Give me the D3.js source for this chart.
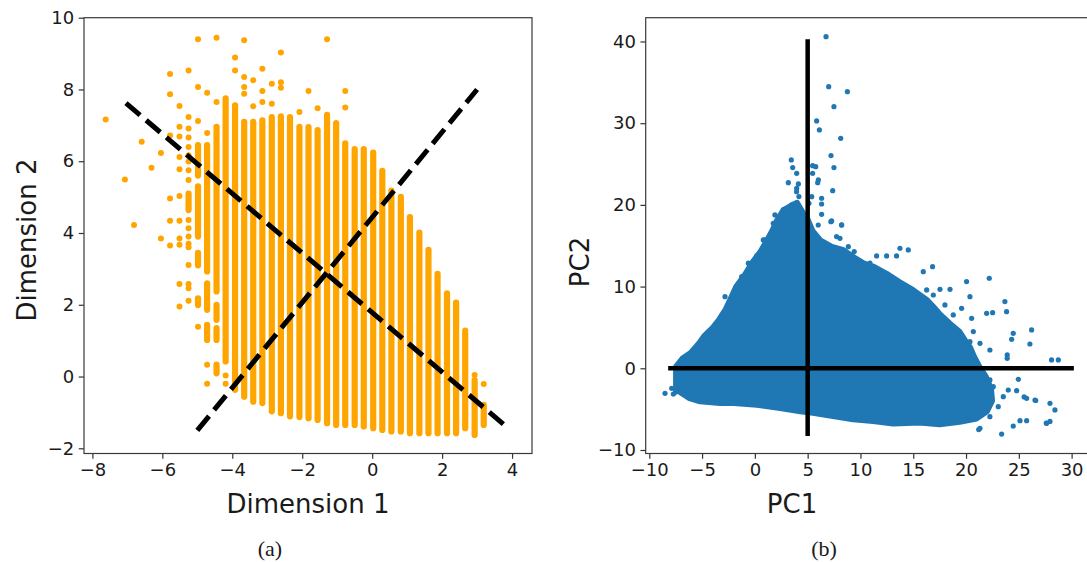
<!DOCTYPE html>
<html>
<head>
<meta charset="utf-8">
<script src="https://cdn.jsdelivr.net/npm/d3@7"></script>
<style>
  html, body { margin: 0; padding: 0; background: #fff; }
  svg { display: block; }
  .tick text { font-family: "DejaVu Sans", sans-serif; font-size: 18px; fill: #1a1a1a; }
  .lbl { font-family: "DejaVu Sans", sans-serif; font-size: 26px; fill: #1a1a1a; }
  .cap { font-family: "Liberation Serif", serif; font-size: 22px; fill: #1a1a1a; }
</style>
</head>
<body>
<svg id="fig" width="1087" height="562"></svg>
<script>
// ---------- Panel (a): raw 2-D data ----------
const dimXTicks = [-8, -6, -4, -2, 0, 2, 4];
const dimYTicks = [-2, 0, 2, 4, 6, 8, 10];

// dense vertical runs of points: [x, yLow, yHigh]
const dimSegments = [
  [-5.25, 4.64, 5.10],
  [-4.98, 5.60, 6.45], [-4.98, 3.90, 5.30], [-4.98, 3.10, 3.45], [-4.98, 1.99, 2.18],
  [-4.72, 2.93, 6.45], [-4.72, 1.86, 2.60], [-4.72, 1.02, 1.44],
  [-4.45, 2.37, 6.96], [-4.45, 1.58, 2.00], [-4.45, 1.02, 1.35], [-4.45, 0.09, 0.33],
  [-4.19, 0.42, 7.75],
  [-3.92, -0.37, 7.56],
  [-3.66, -0.56, 7.10],
  [-3.40, -0.70, 7.10],
  [-3.14, -0.74, 7.14],
  [-2.87, -0.97, 7.23],
  [-2.61, -1.02, 7.25],
  [-2.35, -1.11, 7.23],
  [-2.08, -1.13, 6.96],
  [-1.82, -1.16, 6.95],
  [-1.56, -1.21, 6.87],
  [-1.29, -1.30, 7.29],
  [-1.03, -1.35, 7.06],
  [-0.77, -1.35, 6.50],
  [-0.50, -1.35, 6.34],
  [-0.24, -1.39, 6.34],
  [0.03, -1.44, 6.24],
  [0.29, -1.49, 5.73],
  [0.55, -1.53, 5.18],
  [0.82, -1.53, 5.01],
  [1.08, -1.58, 4.44],
  [1.35, -1.58, 4.01],
  [1.61, -1.58, 3.53],
  [1.87, -1.58, 2.86],
  [2.14, -1.58, 2.32],
  [2.40, -1.58, 2.06],
  [2.66, -1.44, 1.21],
  [2.93, -1.63, -0.10],
  [3.19, -1.35, -0.79]
];

// isolated points: [x, y]
const dimPoints = [
  [-7.62, 7.16], [-7.07, 5.49], [-6.81, 4.22], [-6.59, 6.54], [-6.31, 5.82],
  [-6.04, 6.23], [-6.04, 3.85],
  [-5.78, 8.43], [-5.78, 7.87], [-5.78, 6.72], [-5.78, 4.96], [-5.78, 4.34], [-5.78, 3.65],
  [-5.51, 7.54], [-5.51, 6.96], [-5.51, 6.69], [-5.51, 6.12], [-5.51, 5.78], [-5.51, 5.03],
  [-5.51, 4.34], [-5.51, 3.85], [-5.51, 3.67], [-5.51, 2.58], [-5.51, 1.95],
  [-5.25, 8.53], [-5.25, 7.23], [-5.25, 6.91], [-5.25, 6.66], [-5.25, 6.40], [-5.25, 6.17],
  [-5.25, 5.99], [-5.25, 5.75], [-5.25, 5.48], [-5.25, 4.36], [-5.25, 4.13], [-5.25, 3.90],
  [-5.25, 3.70], [-5.25, 3.60], [-5.25, 3.11], [-5.25, 2.58], [-5.25, 2.46], [-5.25, 2.11],
  [-4.98, 9.40], [-4.98, 8.07], [-4.98, 7.12], [-4.98, 1.39],
  [-4.72, 7.91], [-4.72, 6.79], [-4.72, 0.33], [-4.72, -0.20],
  [-4.45, 9.44], [-4.45, 7.65],
  [-4.19, 0.03], [-4.19, -0.20],
  [-3.92, 8.89], [-3.92, 8.53],
  [-3.66, 9.37], [-3.66, 8.35], [-3.66, 8.07], [-3.66, 7.88],
  [-3.40, 8.26], [-3.40, 7.53],
  [-3.14, 8.58], [-3.14, 7.96], [-3.14, 7.65],
  [-2.87, 8.16], [-2.87, 7.60],
  [-2.61, 9.03], [-2.61, 8.20], [-2.61, 8.05],
  [-2.08, 7.37], [-1.82, 7.96], [-1.56, 7.48], [-1.29, 9.40],
  [-0.77, 7.96], [-0.77, 7.50],
  [2.66, 1.28], [2.93, 0.04], [3.19, -0.21]
];

// principal directions drawn through the cloud: [[x0, y0], [x1, y1]]
const dimAxes = [
  [[-7.04, 7.62], [3.91, -1.46]],
  [[-5.00, -1.50], [3.00, 8.00]]
];

// ---------- Panel (b): projection on PC1/PC2 ----------
const pcXTicks = [-10, -5, 0, 5, 10, 15, 20, 25, 30];
const pcYTicks = [-10, 0, 10, 20, 30, 40];

// outline of the dense body of the projected cloud
const pcOutline = [
  [-7.5, -2.9], [-7.5, 0.2], [-6.9, 1.2], [-6.1, 1.9], [-5.3, 3.1], [-4.8, 4.0], [-4.0, 5.0],
  [-3.4, 6.0], [-2.8, 7.2], [-2.3, 8.6], [-1.8, 10.0], [-1.0, 11.4], [-0.3, 12.9], [0.5, 14.3],
  [1.0, 15.4], [1.6, 16.8], [2.1, 18.2], [2.7, 19.4], [3.5, 20.0], [4.0, 20.3], [4.6, 19.0],
  [5.0, 18.3], [5.5, 16.8], [6.2, 15.7], [7.3, 14.9], [8.4, 14.5], [9.3, 13.7], [10.3, 12.9],
  [11.2, 12.5], [12.5, 11.6], [13.7, 10.6], [15.0, 9.6], [16.3, 8.4], [16.9, 7.6], [17.5, 6.7],
  [18.5, 5.5], [19.4, 4.5], [19.9, 3.5], [20.4, 2.6], [20.8, 1.4], [21.3, 0.2], [21.9, -1.0],
  [22.4, -2.5], [22.5, -4.0], [22.0, -5.3], [21.0, -6.2], [19.4, -6.6], [17.5, -6.9], [15.6, -6.7],
  [13.1, -6.8], [11.2, -6.5], [9.3, -6.3], [7.4, -5.9], [5.5, -5.5], [4.3, -5.3], [2.4, -4.9],
  [0.2, -4.5], [-2.0, -4.3], [-3.3, -4.3], [-5.2, -4.1], [-6.2, -3.7], [-7.4, -2.7]
];

// scattered points around the body: [PC1, PC2]
const pcPoints = [
  [6.74, 40.59], [6.99, 34.47], [8.76, 33.86], [7.49, 32.02], [5.85, 30.27], [6.11, 29.17],
  [8.13, 28.15], [7.21, 26.03], [3.45, 25.50], [3.58, 24.56], [3.96, 23.86], [5.47, 24.80],
  [5.76, 24.68], [5.47, 23.86], [7.49, 24.56], [6.01, 23.05], [5.95, 22.72], [3.17, 22.72],
  [4.12, 22.56], [3.96, 22.03], [7.37, 21.74], [5.38, 21.01], [4.17, 21.02], [3.95, 21.62],
  [6.32, 20.81], [6.32, 20.11], [5.12, 20.20], [6.32, 18.85], [7.20, 17.95], [8.21, 17.54],
  [6.00, 17.54], [7.74, 16.12], [8.85, 14.89], [9.41, 14.28], [3.48, 20.00], [2.69, 19.38],
  [1.90, 18.77], [1.74, 17.75], [0.80, 15.71], [0.32, 13.87], [7.27, 18.04], [8.22, 17.55],
  [8.06, 15.91], [-2.83, 8.77], [-1.25, 11.22], [-0.62, 12.86], [0.96, 15.71], [0.17, 13.75],
  [-4.72, 4.00],
  [22.20, 11.02], [20.05, 10.61], [18.48, 9.67], [17.53, 9.67], [16.83, 12.44], [15.95, 11.83],
  [14.53, 14.49], [13.74, 14.69], [12.48, 13.75], [13.42, 13.75], [11.53, 13.75], [10.90, 12.86],
  [9.95, 13.06], [23.68, 8.16], [23.84, 6.93], [21.95, 6.73], [22.52, 6.81], [24.47, 4.28],
  [24.32, 3.55], [26.21, 4.69], [26.05, 2.97], [23.90, 1.63], [23.90, 1.22], [22.26, 2.24],
  [28.10, 1.02], [28.74, 1.02], [24.95, -1.35], [24.00, -2.66], [24.79, -2.74], [25.74, -3.68],
  [26.53, -3.88], [27.95, -4.29], [28.42, -5.10], [27.63, -6.74], [25.74, -6.41], [25.11, -6.41],
  [24.47, -7.07], [23.37, -8.05], [21.32, -7.35], [22.26, -5.92], [23.05, -4.70], [23.53, -3.47],
  [22.58, -2.25], [22.26, -1.43], [20.37, 8.77], [19.58, 7.34], [18.79, 6.53], [18.00, 7.75],
  [16.90, 8.97], [16.27, 9.59], [20.53, 6.12], [20.69, 4.49], [21.32, 3.06], [20.37, 3.26],
  [21.20, -7.50], [27.60, -6.70], [27.95, -6.50], [26.60, -3.94], [25.50, -3.50],
  [-8.51, -3.07], [-7.88, -2.45], [-7.72, -3.15], [-6.93, 1.02]
];

// mean-centred reference axes: [[x0, y0], [x1, y1]]
const pcAxes = [
  [[-8, 0], [30, 0]],
  [[5, -8], [5, 40]]
];

// ---------- drawing ----------
const svg = d3.select("#fig");
const fmt = d => (d < 0 ? "\u2212" + Math.abs(d) : String(d));

function frame(box, xDom, yDom, xTicks, yTicks, id) {
  const x = d3.scaleLinear().domain(xDom).range([box.x0, box.x1]);
  const y = d3.scaleLinear().domain(yDom).range([box.y1, box.y0]);
  svg.append("clipPath").attr("id", id)
    .append("rect").attr("x", box.x0).attr("y", box.y0)
    .attr("width", box.x1 - box.x0).attr("height", box.y1 - box.y0);
  const plot = svg.append("g").attr("clip-path", `url(#${id})`);
  const axes = () => {
    const gx = svg.append("g").attr("transform", `translate(0,${box.y1})`)
      .call(d3.axisBottom(x).tickValues(xTicks).tickSize(5.25).tickPadding(4.5).tickFormat(fmt));
    const gy = svg.append("g").attr("transform", `translate(${box.x0},0)`)
      .call(d3.axisLeft(y).tickValues(yTicks).tickSize(5.25).tickPadding(4.5).tickFormat(fmt));
    [gx, gy].forEach(g => {
      g.select(".domain").remove();
      g.selectAll(".tick line").attr("stroke", "#333").attr("stroke-width", 1.2);
    });
    svg.append("rect").attr("x", box.x0).attr("y", box.y0)
      .attr("width", box.x1 - box.x0).attr("height", box.y1 - box.y0)
      .attr("fill", "none").attr("stroke", "#3a3a3a").attr("stroke-width", 1.2);
  };
  return { x, y, plot, axes };
}

// Panel (a)
const A = frame({ x0: 84, x1: 532, y0: 17.7, y1: 453.5 },
  [-8.24, 4.57], [-2.145, 10], dimXTicks, dimYTicks, "clipA");
const orange = "#ffa500";
A.plot.selectAll("line.run").data(dimSegments).join("line")
  .attr("x1", d => A.x(d[0])).attr("x2", d => A.x(d[0]))
  .attr("y1", d => A.y(d[2])).attr("y2", d => A.y(d[1]))
  .attr("stroke", orange).attr("stroke-width", 6.2).attr("stroke-linecap", "round");
A.plot.selectAll("circle").data(dimPoints).join("circle")
  .attr("cx", d => A.x(d[0])).attr("cy", d => A.y(d[1])).attr("r", 3)
  .attr("fill", orange);
A.plot.selectAll("line.pca").data(dimAxes).join("line").attr("class", "pca")
  .attr("x1", d => A.x(d[0][0])).attr("y1", d => A.y(d[0][1]))
  .attr("x2", d => A.x(d[1][0])).attr("y2", d => A.y(d[1][1]))
  .attr("stroke", "#000").attr("stroke-width", 5).attr("stroke-dasharray", "18.5,8");
A.axes();

// Panel (b)
const B = frame({ x0: 645.7, x1: 1092, y0: 17.7, y1: 453.5 },
  [-10.34, 31.93], [-10.43, 42.91], pcXTicks, pcYTicks, "clipB");
const blue = "#1f77b4";
B.plot.append("path")
  .attr("d", d3.line().x(d => B.x(d[0])).y(d => B.y(d[1])).curve(d3.curveLinearClosed)(pcOutline))
  .attr("fill", blue).attr("stroke", blue).attr("stroke-width", 5.2).attr("stroke-linejoin", "round");
B.plot.selectAll("circle").data(pcPoints).join("circle")
  .attr("cx", d => B.x(d[0])).attr("cy", d => B.y(d[1])).attr("r", 2.6)
  .attr("fill", blue);
B.plot.selectAll("line.ref").data(pcAxes).join("line").attr("class", "ref")
  .attr("x1", d => B.x(d[0][0])).attr("y1", d => B.y(d[0][1]))
  .attr("x2", d => B.x(d[1][0])).attr("y2", d => B.y(d[1][1]))
  .attr("stroke", "#000").attr("stroke-width", 4.5).attr("stroke-linecap", "square");
B.axes();

// axis titles and captions
svg.append("text").attr("class", "lbl").attr("x", 308).attr("y", 512.6)
  .attr("text-anchor", "middle").text("Dimension 1");
svg.append("text").attr("class", "lbl").attr("transform", "translate(36,240) rotate(-90)")
  .attr("text-anchor", "middle").text("Dimension 2");
svg.append("text").attr("class", "lbl").attr("x", 792).attr("y", 512.6)
  .attr("text-anchor", "middle").text("PC1");
svg.append("text").attr("class", "lbl").attr("transform", "translate(589,262) rotate(-90)")
  .attr("text-anchor", "middle").text("PC2");
svg.append("text").attr("class", "cap").attr("x", 270).attr("y", 556)
  .attr("text-anchor", "middle").text("(a)");
svg.append("text").attr("class", "cap").attr("x", 824).attr("y", 556)
  .attr("text-anchor", "middle").text("(b)");
</script>
</body>
</html>
